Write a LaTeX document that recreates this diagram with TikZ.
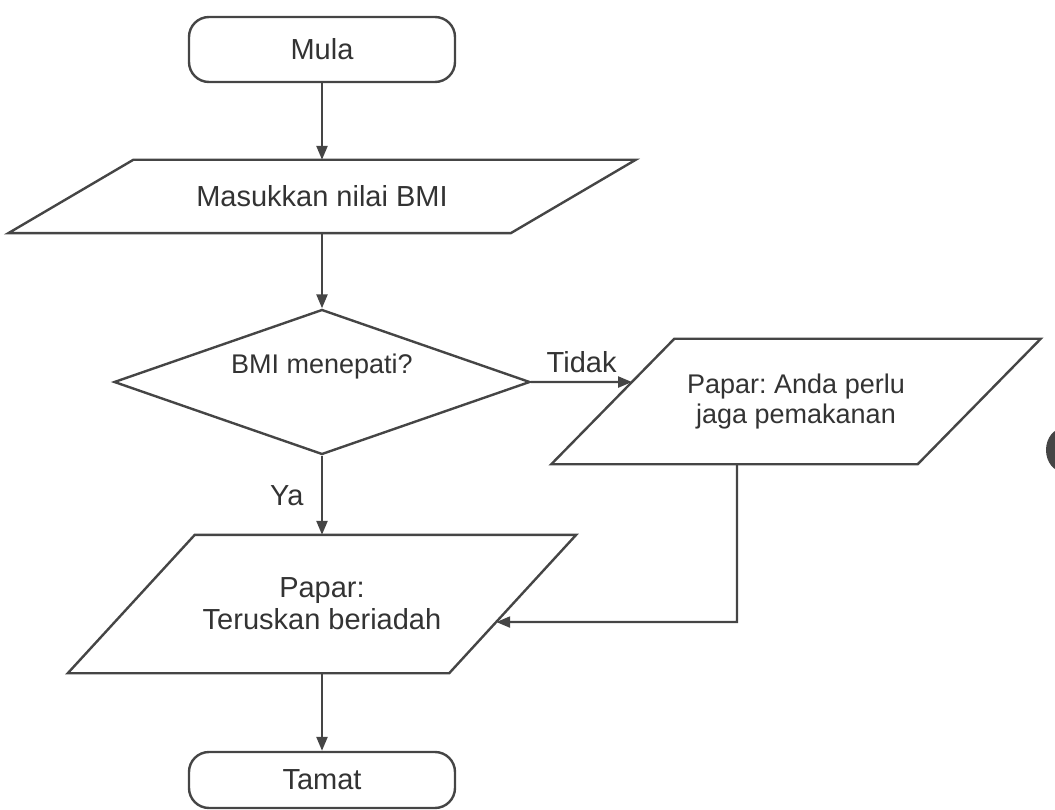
\documentclass[tikz,border=0pt]{standalone}
\usepackage{fontspec}
\setmainfont{Liberation Sans}
\usetikzlibrary{shapes.geometric,arrows.meta,calc}
\definecolor{ink}{HTML}{454545}
\definecolor{txt}{HTML}{333333}
\frenchspacing
% draws a parallelogram round a body node: #1 node name, #2 half of the slant offset
\newcommand{\slantframe}[2]{%
  \coordinate (#1-bl) at ($(#1.south west)+(-#2,0)$);
  \coordinate (#1-tl) at ($(#1.north west)+(#2,0)$);
  \coordinate (#1-tr) at ($(#1.north east)+(#2,0)$);
  \coordinate (#1-br) at ($(#1.south east)+(-#2,0)$);
  \draw[line] (#1-bl) -- (#1-tl) -- (#1-tr) -- (#1-br) -- cycle;}
\begin{document}
\begin{tikzpicture}[x=1pt,y=-1pt,
  every node/.style={text=txt, font=\fontsize{29}{32}\selectfont},
  small/.style={font=\fontsize{27}{29.5}\selectfont},
  line/.style={draw=ink, line width=2.4pt},
  flow/.style={line, -{Triangle[length=14pt,width=11pt]}},
  terminal/.style={line, rectangle, rounded corners=20pt, minimum width=266pt, inner sep=0pt},
  io/.style={rectangle, inner sep=0pt, align=center},
  decision/.style={line, diamond, inner sep=0pt, minimum width=416pt, minimum height=145pt},
]
\useasboundingbox (0,0) rectangle (1055,810);

% main column
\node[terminal, minimum height=65pt] (start) at (322,49.5) {Mula};
\node[io, minimum width=502pt, minimum height=73pt] (input) at (322,196.5) {Masukkan nilai BMI};
\slantframe{input}{62.5pt}
\node[decision] (dec) at (322,382) {};
\node[small] (dectext) at (322,367) {BMI menepati?};
\node[io, minimum width=381pt, minimum height=138pt] (show) at (322,604) {Papar:\\Teruskan beriadah};
\slantframe{show}{63.5pt}
\node[terminal, minimum height=56pt] (end) at (322,780) {Tamat};

% side branch
\node[io, small, minimum width=366pt, minimum height=125pt] (adv) at (796,401.5) {Papar: Anda perlu\\jaga pemakanan};
\slantframe{adv}{61.5pt}

% entry points on the slanted edges
\coordinate (decray) at (dec.east -| adv.east);
\coordinate (advin) at (intersection of dec.east--decray and adv-tl--adv-bl);
\coordinate (bend) at (737,622);
\coordinate (bendray) at (bend -| show.west);
\coordinate (showin) at (intersection of bend--bendray and show-tr--show-br);

% connectors
\draw[flow] (start) -- (input);
\draw[flow] (input) -- (dec);
\draw[flow] (dec) -- node[left=14pt] {Ya} (show);
\draw[flow] (dec.east) -- node[above=5pt] {Tidak} (advin);
\draw[flow] (bend |- adv.south) -- (bend) -- (showin);
\draw[flow] (show) -- (end);

% dark shape cut by the right edge
\begin{scope}
  \clip (0,0) rectangle (1055,810);
  \fill[ink] (1064,450) ellipse [x radius=18pt, y radius=22pt];
\end{scope}
\end{tikzpicture}
\end{document}
